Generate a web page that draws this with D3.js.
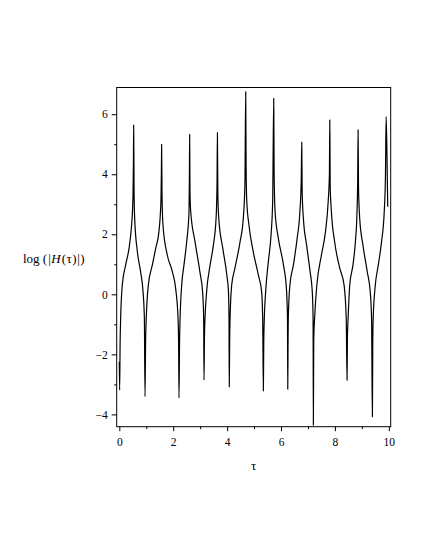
<!DOCTYPE html>
<html>
<head>
<meta charset="utf-8">
<script src="https://cdn.jsdelivr.net/npm/d3@7"></script>
<style>
  html, body { margin: 0; padding: 0; background: #fff; }
  svg { display: block; font-family: "Liberation Serif", "Times New Roman", serif; }
</style>
</head>
<body>
<svg id="chart" width="425" height="550"></svg>
<script>
// tau sample positions
const tauValues = [
  0.000, 0.012, 0.030, 0.050, 0.110, 0.236, 0.360, 0.446, 0.490, 0.508, 0.524, 0.533,
  0.548, 0.570, 0.670, 0.790, 0.880, 0.930, 0.954,
  0.975, 1.000, 1.077, 1.226, 1.350, 1.470, 1.530, 1.547, 1.562, 1.570,
  1.585, 1.620, 1.780, 1.970, 2.090, 2.180, 2.200, 2.215,
  2.235, 2.255, 2.315, 2.400, 2.500, 2.586, 2.600, 2.610,
  2.622, 2.650, 2.810, 2.990, 3.090, 3.130, 3.143,
  3.160, 3.180, 3.240, 3.370, 3.490, 3.590, 3.625, 3.640,
  3.655, 3.690, 3.840, 3.990, 4.050, 4.070, 4.080,
  4.095, 4.110, 4.170, 4.290, 4.480, 4.600, 4.660, 4.690,
  4.705, 4.730, 4.810, 4.970, 5.160, 5.280, 5.320, 5.345,
  5.360, 5.380, 5.430, 5.530, 5.630, 5.690, 5.730,
  5.745, 5.780, 5.900, 6.090, 6.200, 6.240, 6.250,
  6.262, 6.270, 6.330, 6.460, 6.600, 6.700, 6.750, 6.770,
  6.785, 6.830, 6.950, 7.080, 7.160, 7.190, 7.200,
  7.215, 7.260, 7.330, 7.500, 7.650, 7.750, 7.795, 7.810,
  7.825, 7.870, 7.990, 8.180, 8.340, 8.420, 8.450,
  8.465, 8.490, 8.550, 8.670, 8.760, 8.820, 8.845, 8.860,
  8.875, 8.920, 9.040, 9.200, 9.310, 9.360, 9.390,
  9.405, 9.420, 9.500, 9.610, 9.730, 9.830, 9.875, 9.900,
  9.930, 9.960
];
// log(|H(tau)|) values
const logHValues = [
  -2.25, -3.19, -1.60, -0.80, 0.31, 0.98, 1.53, 2.20, 2.80, 3.31, 4.40, 5.64,
  3.40, 2.53, 1.42, 0.75, 0.09, -0.80, -3.41,
  -1.60, -0.80, 0.31, 0.98, 1.53, 2.09, 2.80, 3.20, 4.10, 5.00,
  3.30, 2.31, 1.31, 0.75, 0.20, -0.80, -1.60, -3.45,
  -1.60, -0.80, 0.31, 0.98, 1.75, 2.75, 3.80, 5.33,
  3.40, 2.75, 1.75, 0.75, 0.09, -0.80, -2.86,
  -1.40, -0.80, 0.09, 0.98, 1.64, 2.53, 3.60, 5.39,
  3.40, 2.53, 1.53, 0.64, 0.09, -0.80, -3.08,
  -1.50, -0.80, 0.31, 0.87, 1.75, 2.53, 3.64, 6.75,
  4.20, 3.09, 2.31, 1.42, 0.64, 0.09, -0.80, -3.22,
  -1.60, -0.80, 0.09, 1.09, 1.98, 3.09, 6.53,
  4.00, 2.75, 1.87, 0.98, 0.20, -0.80, -3.16,
  -1.50, -0.80, 0.31, 0.98, 1.87, 2.75, 3.80, 5.07,
  3.40, 2.53, 1.64, 0.75, 0.09, -0.80, -4.36,
  -1.50, -0.58, 0.31, 1.31, 2.09, 3.09, 4.00, 5.81,
  3.60, 2.75, 1.75, 0.87, 0.31, -0.80, -2.86,
  -1.40, -0.80, 0.31, 0.98, 1.75, 2.75, 3.80, 5.48,
  3.60, 2.53, 1.64, 0.75, 0.09, -0.80, -4.08,
  -1.60, -0.80, 0.31, 0.98, 1.75, 2.75, 3.90, 5.92,
  4.75, 2.92
];
const xMajorTicks = [0, 2, 4, 6, 8, 10];
const xMinorTicks = [1, 3, 5, 7, 9];
const yMajorTicks = [-4, -2, 0, 2, 4, 6];
const yMinorTicks = [-3, -1, 1, 3, 5];
const xLabel = "τ";

const svg = d3.select("#chart");
const plotLeft = 116.7, plotRight = 390.7, plotTop = 87.5, plotBottom = 426.7;

const x = d3.scaleLinear().domain([-0.097, 10.07]).range([plotLeft, plotRight]);
const y = d3.scaleLinear().domain([-4.41, 6.89]).range([plotBottom, plotTop]);

const fmt = d => (d < 0 ? "\u2212" + Math.abs(d) : String(d));

// minor ticks
const gxm = svg.append("g").attr("transform", `translate(0,${plotBottom})`)
  .call(d3.axisBottom(x).tickValues(xMinorTicks).tickSize(2.5).tickFormat(""));
const gym = svg.append("g").attr("transform", `translate(${plotLeft},0)`)
  .call(d3.axisLeft(y).tickValues(yMinorTicks).tickSize(2.5).tickFormat(""));
[gxm, gym].forEach(g => { g.select(".domain").remove(); g.selectAll("line").attr("stroke", "#000"); });

// major axes
const gx = svg.append("g").attr("transform", `translate(0,${plotBottom})`)
  .call(d3.axisBottom(x).tickValues(xMajorTicks).tickSize(4.5).tickSizeOuter(0).tickPadding(7).tickFormat(fmt));
const gy = svg.append("g").attr("transform", `translate(${plotLeft},0)`)
  .call(d3.axisLeft(y).tickValues(yMajorTicks).tickSize(5).tickSizeOuter(0).tickPadding(4).tickFormat(fmt));
[gx, gy].forEach(g => {
  g.select(".domain").remove();
  g.selectAll("line").attr("stroke", "#000");
  g.selectAll("text").attr("font-family", "'Liberation Serif', serif").attr("font-size", 11.5).attr("fill", "#000");
});

// frame
svg.append("rect")
  .attr("x", plotLeft).attr("y", plotTop)
  .attr("width", plotRight - plotLeft).attr("height", plotBottom - plotTop)
  .attr("fill", "none").attr("stroke", "#000").attr("stroke-width", 1);

// curve
const pts = tauValues.map((t, i) => [t, logHValues[i]]);
const line = d3.line().x(d => x(d[0])).y(d => y(d[1])).curve(d3.curveMonotoneX);
svg.append("path").datum(pts)
  .attr("d", line)
  .attr("fill", "none").attr("stroke", "#000").attr("stroke-width", 1.2)
  .attr("stroke-linejoin", "round");

// axis labels
svg.append("text")
  .attr("x", (plotLeft + plotRight) / 2).attr("y", 470)
  .attr("text-anchor", "middle").attr("font-size", 13).attr("fill", "#000")
  .text(xLabel);

const yl = svg.append("text")
  .attr("x", 23).attr("y", 263)
  .attr("font-size", 13).attr("fill", "#000");
yl.append("tspan").text("log (");
yl.append("tspan").attr("dx", 1).text("|");
yl.append("tspan").attr("font-style", "italic").attr("dx", 0.5).text("H");
yl.append("tspan").attr("dx", 1).text("(");
yl.append("tspan").attr("dx", 0.5).text("τ");
yl.append("tspan").attr("dx", 0.5).text(")");
yl.append("tspan").attr("dx", 0.5).text("|");
yl.append("tspan").attr("dx", 0.5).text(")");
</script>
</body>
</html>
